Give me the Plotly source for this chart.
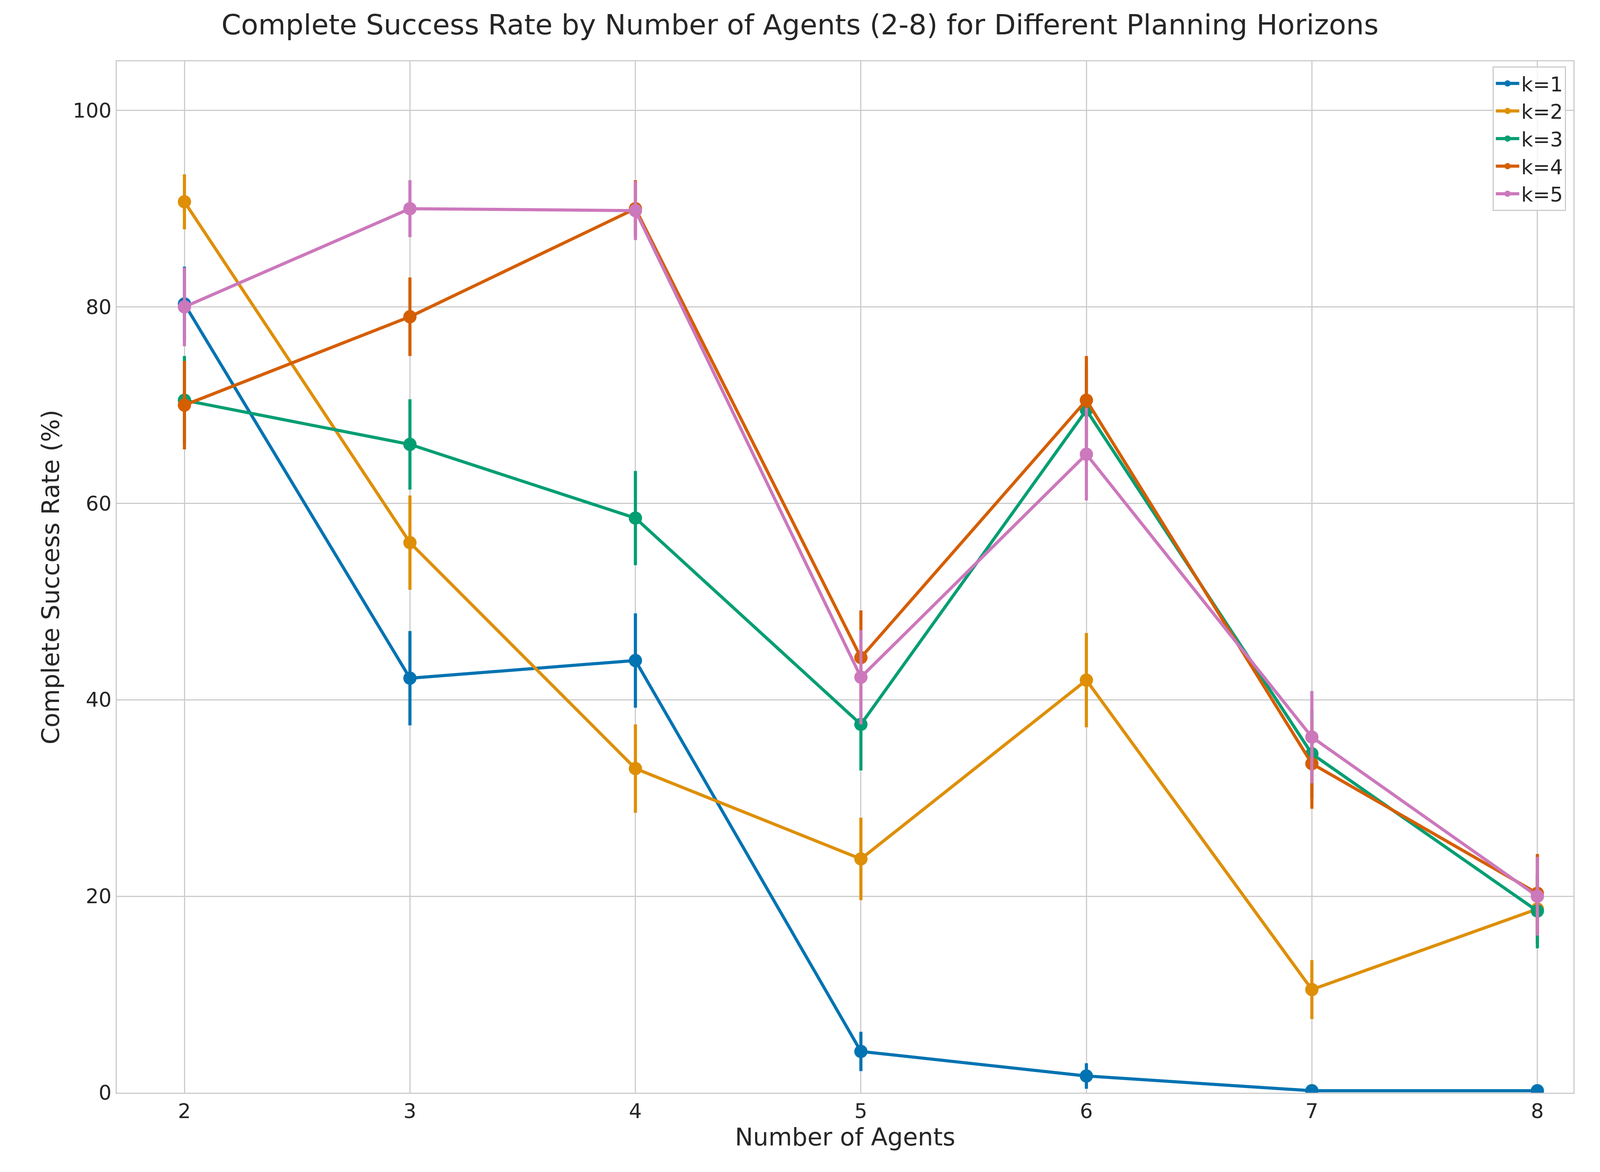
import plotly.graph_objects as go

agents = [2, 3, 4, 5, 6, 7, 8]
series_names = ["k=1", "k=2", "k=3", "k=4", "k=5"]
k1 = [80.3, 42.2, 44.0, 4.2, 1.7, 0.2, 0.2]
k1_err = [3.8, 4.8, 4.8, 2.0, 1.3, 0.2, 0.2]
k2 = [90.7, 56.0, 33.0, 23.8, 42.0, 10.5, 18.7]
k2_err = [2.8, 4.8, 4.5, 4.2, 4.8, 3.0, 3.5]
k3 = [70.5, 66.0, 58.5, 37.5, 69.5, 34.5, 18.5]
k3_err = [4.5, 4.6, 4.8, 4.7, 4.5, 4.5, 3.8]
k4 = [70.0, 79.0, 90.0, 44.3, 70.5, 33.5, 20.3]
k4_err = [4.5, 4.0, 2.9, 4.8, 4.5, 4.6, 4.0]
k5 = [80.0, 90.0, 89.8, 42.3, 65.0, 36.2, 20.0]
k5_err = [4.0, 2.9, 3.0, 4.8, 4.7, 4.7, 4.0]
colors = ["#0173b2", "#de8f05", "#029e73", "#d55e00", "#cc78bc"]

fig = go.Figure()
for name, ys, es, c in zip(series_names, [k1, k2, k3, k4, k5],
                           [k1_err, k2_err, k3_err, k4_err, k5_err], colors):
    fig.add_trace(go.Scatter(
        x=agents, y=ys, name=name, mode="lines+markers",
        line=dict(color=c, width=8), marker=dict(color=c, size=34),
        error_y=dict(type="data", array=es, visible=True, color=c,
                     thickness=8, width=0)))

fig.update_layout(
    width=4080, height=3000, plot_bgcolor="white", paper_bgcolor="white",
    margin=dict(l=291, r=60, t=149, b=211),
    font=dict(family="DejaVu Sans", size=52, color="#262626"),
    title=dict(text="Complete Success Rate by Number of Agents (2-8) for Different Planning Horizons",
               x=0.5, xanchor="center", y=0.99, yanchor="top", font=dict(size=72)),
    legend=dict(x=0.995, y=0.995, xanchor="right", yanchor="top",
                bordercolor="#cccccc", borderwidth=3, bgcolor="rgba(255,255,255,0.8)",
                font=dict(size=52), itemwidth=60),
)
fig.update_xaxes(title=dict(text="Number of Agents", font=dict(size=62)),
                 range=[1.70, 8.16], tickvals=agents, showgrid=True,
                 gridcolor="#cccccc", gridwidth=3, showline=True,
                 linecolor="#cccccc", linewidth=3, mirror=True, zeroline=False,
                 ticks="", ticklen=0)
fig.update_yaxes(title=dict(text="Complete Success Rate (%)", font=dict(size=62)),
                 range=[0, 105], tickvals=[0, 20, 40, 60, 80, 100], showgrid=True,
                 gridcolor="#cccccc", gridwidth=3, showline=True,
                 linecolor="#cccccc", linewidth=3, mirror=True, zeroline=False)
fig.write_html("out.html")
